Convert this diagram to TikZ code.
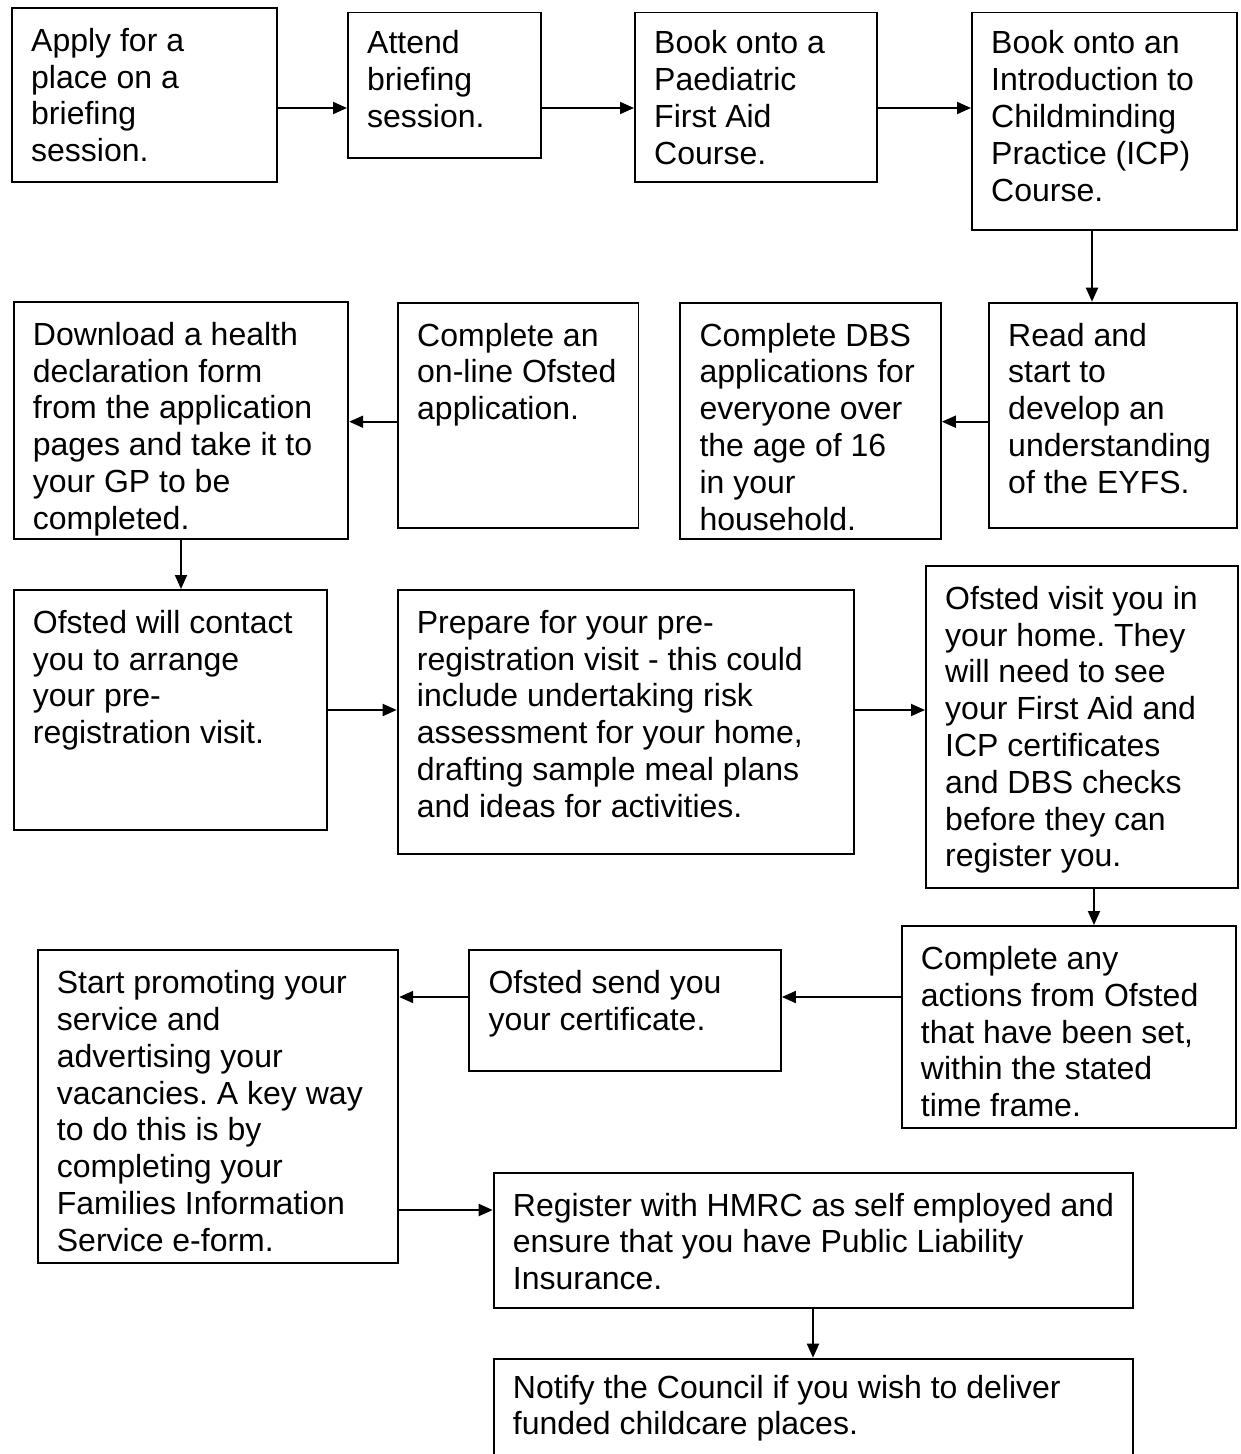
\documentclass[tikz,border=0pt]{standalone}
\usepackage{fontspec}
\setmainfont{Liberation Sans}
\usetikzlibrary{arrows.meta}
\frenchspacing
\tikzset{
  box/.style={draw=black, line width=1.9pt, inner sep=0pt, anchor=north west, rectangle},
  txt/.style={anchor=north west, align=left, inner sep=0pt, font=\fontsize{32}{36.8}\selectfont},
  arr/.style={line width=1.9pt, -{Triangle[length=14pt,width=12pt]}}
}
\newcommand{\flowbox}[7][21]{%
  \node[box, minimum width=#5, minimum height=#6] (#2) at (#3,#4) {};
  \node[txt] (t#2) at ([shift={(20,#1)}]#2.north west) {#7};
}
\begin{document}
\begin{tikzpicture}[x=1pt,y=-1pt]
\useasboundingbox (0,0) rectangle (1240,1454);
\fill[white] (0,0) rectangle (1240,1454);

\flowbox{b1}{11}{7}{265}{174}{Apply for a\\place on a\\briefing\\session.}
\flowbox[19]{b2}{347}{11.5}{193}{145.2}{Attend\\briefing\\session.}
\flowbox[19]{b3}{634}{11.5}{242}{169.5}{Book onto a\\Paediatric\\First Aid\\Course.}
\flowbox[19]{b4}{971}{11.5}{265}{217.5}{Book onto an\\Introduction to\\Childminding\\Practice (ICP)\\Course.}

\flowbox{b8}{988}{301.7}{248}{225.6}{Read and\\start to\\develop an\\understanding\\of the EYFS.}
\flowbox{b7}{679.3}{301.7}{260.7}{236.6}{Complete DBS\\applications for\\everyone over\\the age of 16\\in your\\household.}
\flowbox{b6}{397}{301.7}{240.5}{225.6}{Complete an\\on-line Ofsted\\application.}
\flowbox{b5}{12.7}{301}{334.6}{237.3}{Download a health\\declaration form\\from the application\\pages and take it to\\your GP to be\\completed.}

\flowbox{b9}{12.7}{589}{313}{240.3}{Ofsted will contact\\you to arrange\\your pre-\\registration visit.}
\flowbox{b10}{396.7}{589}{456.6}{264.3}{Prepare for your pre-\\registration visit - this could\\include undertaking risk\\assessment for your home,\\drafting sample meal plans\\and ideas for activities.}
\flowbox{b11}{925}{565}{311.7}{321.7}{Ofsted visit you in\\your home. They\\will need to see\\your First Aid and\\ICP certificates\\and DBS checks\\before they can\\register you.}

\flowbox{b12}{900.7}{925}{334.3}{202}{Complete any\\actions from Ofsted\\that have been set,\\within the stated\\time frame.}
\flowbox{b13}{468.3}{949.3}{311.7}{120.7}{Ofsted send you\\your certificate.}
\flowbox{b14}{36.7}{949.3}{360.6}{312.4}{Start promoting your\\service and\\advertising your\\vacancies. A key way\\to do this is by\\completing your\\Families Information\\Service e-form.}

\flowbox{b15}{492.7}{1171.7}{639.6}{135}{Register with HMRC as self employed and\\ensure that you have Public Liability\\Insurance.}
\flowbox[17]{b16}{492.7}{1357.7}{639.6}{112}{Notify the Council if you wish to deliver\\funded childcare places.}

% row 1
\draw[arr] (b1.east|-0,108) -- (b2.west|-0,108);
\draw[arr] (b2.east|-0,108) -- (b3.west|-0,108);
\draw[arr] (b3.east|-0,108) -- (b4.west|-0,108);
\draw[arr] (b4.south-|1092,0) -- (b8.north-|1092,0);
% row 2
\draw[arr] (b8.west|-0,421.7) -- (b7.east|-0,421.7);
\draw[arr] (b6.west|-0,421.7) -- (b5.east|-0,421.7);
\draw[arr] (b5.south-|181,0) -- (b9.north-|181,0);
% row 3
\draw[arr] (b9.east|-0,710) -- (b10.west|-0,710);
\draw[arr] (b10.east|-0,710) -- (b11.west|-0,710);
\draw[arr] (b11.south-|1094,0) -- (b12.north-|1094,0);
% row 4
\draw[arr] (b12.west|-0,997) -- (b13.east|-0,997);
\draw[arr] (b13.west|-0,997) -- (b14.east|-0,997);
\draw[arr] (b14.east|-0,1210) -- (b15.west|-0,1210);
\draw[arr] (b15.south-|813,0) -- (b16.north-|813,0);
\end{tikzpicture}
\end{document}
